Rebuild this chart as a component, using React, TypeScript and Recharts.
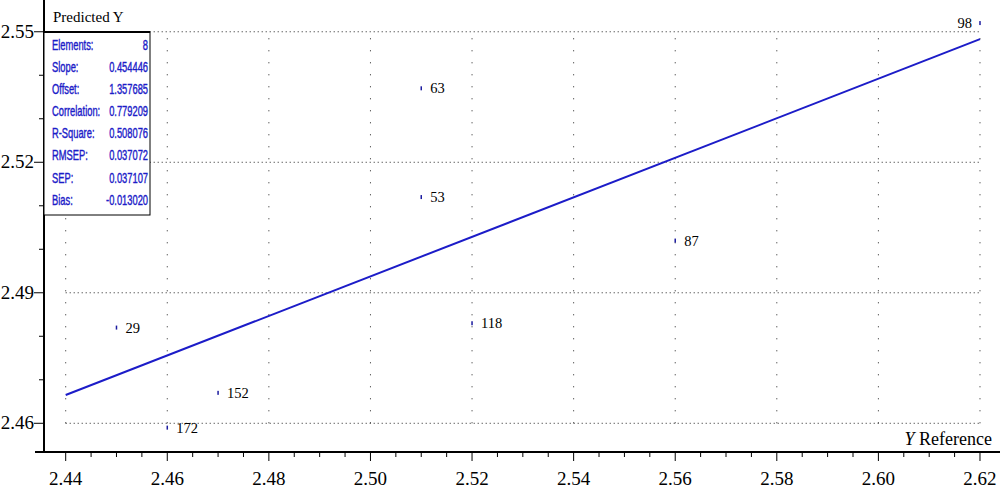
import React from 'react';
import { ScatterChart, Scatter, XAxis, YAxis, ReferenceLine } from 'recharts';

// sample numbers shown next to each point
const sampleIds = ['29', '172', '152', '63', '53', '118', '87', '98'];
const referenceValues = [2.45, 2.46, 2.47, 2.51, 2.51, 2.52, 2.56, 2.62];
const predictedValues = [2.482, 2.459, 2.467, 2.537, 2.512, 2.483, 2.502, 2.552];

// regression line end points (from slope / offset in the panel)
const fitX = [2.44, 2.62];
const fitY = [2.4665, 2.5483];

const xMajorTicks = [2.44, 2.46, 2.48, 2.5, 2.52, 2.54, 2.56, 2.58, 2.6, 2.62];
const xTicks = [
  2.44, 2.445, 2.45, 2.455, 2.46, 2.465, 2.47, 2.475, 2.48, 2.485, 2.49, 2.495,
  2.5, 2.505, 2.51, 2.515, 2.52, 2.525, 2.53, 2.535, 2.54, 2.545, 2.55, 2.555,
  2.56, 2.565, 2.57, 2.575, 2.58, 2.585, 2.59, 2.595, 2.6, 2.605, 2.61, 2.615, 2.62,
];
const yMajorTicks = [2.46, 2.49, 2.52, 2.55];
const yTicks = [2.46, 2.47, 2.48, 2.49, 2.5, 2.51, 2.52, 2.53, 2.54, 2.55];

const statLabels = ['Elements:', 'Slope:', 'Offset:', 'Correlation:', 'R-Square:', 'RMSEP:', 'SEP:', 'Bias:'];
const statValues = ['8', '0.454446', '1.357685', '0.779209', '0.508076', '0.037072', '0.037107', '-0.013020'];

const SERIF = "'Liberation Serif', 'Times New Roman', serif";
const SANS = "'Liberation Sans', Arial, sans-serif";
const BLUE = '#1c1cc8';
const PANEL_SCALE = 0.667;

const isMajor = (list: number[], v: number) => list.some(t => Math.abs(t - v) < 1e-6);

const XTick = (props: any) => {
  const { x, y, payload } = props;
  const major = isMajor(xMajorTicks, payload.value);
  return (
    <g>
      <line x1={x} x2={x} y1={y} y2={y + (major ? 9 : 5)} stroke="#000" strokeWidth={1} />
      {major && (
        <text x={x} y={y + 33} textAnchor="middle" fontSize={19} fontFamily={SERIF} fill="#000">
          {payload.value.toFixed(2)}
        </text>
      )}
    </g>
  );
};

const YTick = (props: any) => {
  const { x, y, payload } = props;
  const major = isMajor(yMajorTicks, payload.value);
  return (
    <g>
      <line x1={x} x2={x - (major ? 10 : 5)} y1={y} y2={y} stroke="#000" strokeWidth={1} />
      {major && (
        <text x={x - 10} y={y + 6} textAnchor="end" fontSize={19} fontFamily={SERIF} fill="#000">
          {payload.value.toFixed(2)}
        </text>
      )}
    </g>
  );
};

const PointMark = (props: any) => {
  const { cx, cy, payload } = props;
  const atRight = cx > 960;
  return (
    <g>
      <rect x={cx - 0.75} y={cy - 2} width={1.5} height={4} fill="#1c1ca0" />
      <text
        x={atRight ? cx - 8 : cx + 9}
        y={cy + 5}
        textAnchor={atRight ? 'end' : 'start'}
        fontSize={14.5}
        fontFamily={SERIF}
        fill="#000"
      >
        {payload.id}
      </text>
    </g>
  );
};

export default function App() {
  const points = sampleIds.map((id, i) => ({ id, x: referenceValues[i], y: predictedValues[i] }));

  return (
    <div style={{ position: 'relative', width: 1000, height: 490, background: '#fff' }}>
      <style>{'body{margin:0}'}</style>
      <ScatterChart width={1000} height={490} margin={{ top: 0, right: 0, bottom: 0, left: 0 }}>
        <XAxis
          type="number"
          dataKey="x"
          domain={[2.43573, 2.62394]}
          allowDataOverflow
          ticks={xTicks}
          interval={0}
          height={38}
          tickSize={0}
          tickMargin={0}
          tickLine={false}
          axisLine={{ stroke: '#000', strokeWidth: 2 }}
          tick={(p: any) => <XTick {...p} />}
        />
        <YAxis
          type="number"
          dataKey="y"
          domain={[2.4534, 2.5573]}
          allowDataOverflow
          ticks={yTicks}
          interval={0}
          width={44}
          tickSize={0}
          tickMargin={0}
          tickLine={false}
          axisLine={{ stroke: '#000', strokeWidth: 2 }}
          tick={(p: any) => <YTick {...p} />}
        />
        {yMajorTicks.map(v => (
          <ReferenceLine
            key={'h' + v}
            segment={[{ x: xMajorTicks[0], y: v }, { x: xMajorTicks[xMajorTicks.length - 1], y: v }]}
            stroke="#222"
            strokeDasharray="1 3"
          />
        ))}
        {xMajorTicks.map(v => (
          <ReferenceLine
            key={'v' + v}
            segment={[{ x: v, y: yMajorTicks[0] }, { x: v, y: yMajorTicks[yMajorTicks.length - 1] }]}
            stroke="#222"
            strokeDasharray="1 11"
          />
        ))}
        <ReferenceLine
          segment={[{ x: fitX[0], y: fitY[0] }, { x: fitX[1], y: fitY[1] }]}
          stroke={BLUE}
          strokeWidth={2}
        />
        <Scatter data={points} shape={(p: any) => <PointMark {...p} />} isAnimationActive={false} />
      </ScatterChart>

      <svg width={1000} height={490} style={{ position: 'absolute', left: 0, top: 0, pointerEvents: 'none' }}>
        <line x1={35} x2={44} y1={452} y2={452} stroke="#000" strokeWidth={2} />
        <text x={53} y={22} fontSize={15} fontFamily={SERIF} fill="#000">Predicted Y</text>
        <rect x={44} y={32} width={106} height={183} fill="#fff" stroke="#000" strokeWidth={1} />
        <line x1={44} x2={150} y1={32} y2={32} stroke="#000" strokeWidth={2} />
        <g transform={`translate(52,0) scale(${PANEL_SCALE},1)`}>
          {statLabels.map((label, i) => (
            <text key={label} x={0} y={50 + 22.1 * i} fontSize={14} fontFamily={SANS} fill={BLUE} stroke={BLUE} strokeWidth={0.4}>
              {label}
            </text>
          ))}
          {statValues.map((val, i) => (
            <text key={i} x={96 / PANEL_SCALE} y={50 + 22.1 * i} textAnchor="end" fontSize={14} fontFamily={SANS} fill={BLUE} stroke={BLUE} strokeWidth={0.4}>
              {val}
            </text>
          ))}
        </g>
        <text x={992} y={445} textAnchor="end" fontSize={18} fontFamily={SERIF} fill="#000">
          <tspan fontStyle="italic">Y</tspan> Reference
        </text>
      </svg>
    </div>
  );
}
